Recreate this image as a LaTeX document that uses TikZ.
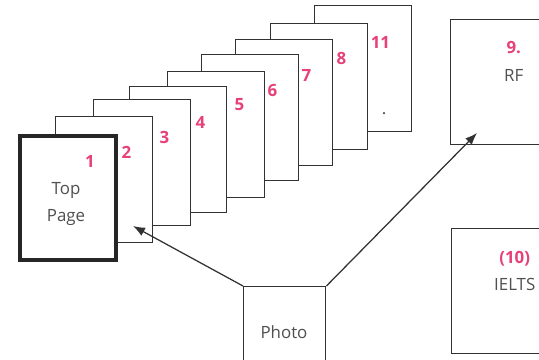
\documentclass[tikz,border=0pt]{standalone}
\usepackage{fontspec}
\setmainfont{Open Sans}
\usetikzlibrary{arrows.meta,positioning,calc}
\definecolor{inkgray}{RGB}{50,50,50}
\definecolor{textgray}{RGB}{80,80,80}
\definecolor{numpink}{RGB}{232,64,120}

\begin{document}
\begin{tikzpicture}[
    x=0.025cm, y=-0.025cm,
    page/.style={draw=inkgray, fill=white, line width=1pt, anchor=north west, minimum width=2.425cm, minimum height=3.15cm, inner sep=0pt},
    toppage/.style={page, line width=2.8pt, draw=black!85, minimum width=2.4cm, minimum height=3.1cm},
    box/.style={draw=inkgray, fill=white, line width=1pt, anchor=north west, minimum width=3.15cm, minimum height=3.125cm, inner sep=0pt},
    num/.style={text=numpink, font=\fontsize{12}{14}\selectfont\bfseries, inner sep=0pt},
    txt/.style={text=textgray, font=\fontsize{12}{19.5}\selectfont, align=center, inner sep=0pt},
    link/.style={-{Latex[length=8.5pt,width=6.5pt]}, draw=inkgray, line width=0.9pt}
]
\clip (0,0) rectangle (539,360);

% Stack of pages, back to front
\node[page] (pg11) at (314,5) {};
\node[page] (pg8) at (270,23) {};
\node[page] (pg7) at (235,39) {};
\node[page] (pg6) at (201,54) {};
\node[page] (pg5) at (167,71) {};
\node[page] (pg4) at (129,86) {};
\node[page] (pg3) at (93,99) {};
\node[page] (pg2) at (55,116) {};
\node[toppage] (pg1) at (18,134) {};

% Page numbers, in the visible strip of each page
\node[num] (n11) at ($(pg11.north east)+(-32,37)$) {11};
\node[num] (n8) at ($(pg8.north east)+(-27,35)$) {8};
\node[num] (n7) at ($(pg7.north east)+(-27,36)$) {7};
\node[num] (n6) at ($(pg6.north east)+(-27,36)$) {6};
\node[num] (n5) at ($(pg5.north east)+(-26,34)$) {5};
\node[num] (n4) at ($(pg4.north east)+(-27,36)$) {4};
\node[num] (n3) at ($(pg3.north east)+(-27,38)$) {3};
\node[num] (n2) at ($(pg2.north east)+(-27,36)$) {2};
\node[num] (n1) at ($(pg1.north east)+(-28,27)$) {1};
\node[txt] (toptxt) at (66,204) {Top\\Page};
\node[txt] (dot11) at (384,114) {.};

% Separate documents on the right
\node[box] (rf) at (450,19) {};
\node[txt, below=16pt of rf.north] (rftxt) {\textcolor{numpink}{\bfseries 9.}\\RF};
\node[box] (ielts) at (451,228) {};
\node[txt, below=16pt of ielts.north] (ieltstxt) {\textcolor{numpink}{\bfseries (10)}\\IELTS};

% Photo, cut by the lower edge
\node[box, minimum width=2.05cm, minimum height=2.5cm] (photo) at (243,286) {};
\node[txt] (phototxt) at (284,332) {Photo};

% Arrows from the photo
\coordinate (tipA) at (133,226);
\coordinate (tipB) at (477,133);
\draw[link] (photo.north west) -- (tipA);
\draw[link] (photo.north east) -- (tipB);

\end{tikzpicture}
\end{document}
